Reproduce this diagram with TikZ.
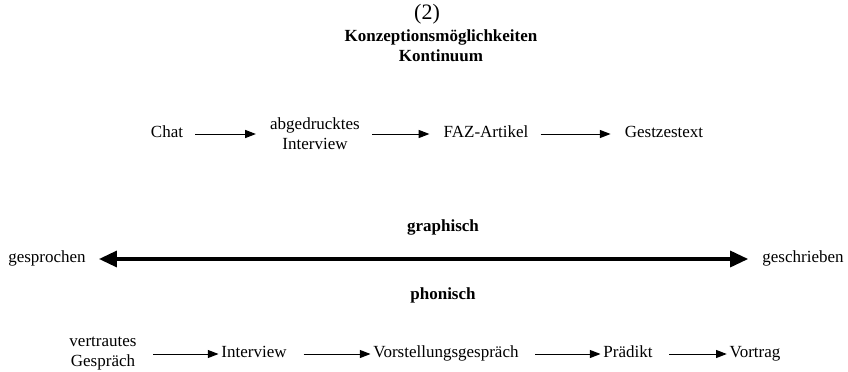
\documentclass[tikz,border=0pt]{standalone}
\usepackage{fontspec}
\setmainfont{Liberation Serif}
\usepackage{tikz}
\usetikzlibrary{arrows.meta,positioning}

\begin{document}
\begin{tikzpicture}[
    x=0.75pt, y=-0.75pt,
    item/.style={inner sep=0pt, font=\fontsize{12.75}{15}\selectfont, text height=1.5ex, text depth=.25ex},
    twoline/.style={inner sep=0pt, font=\fontsize{12.75}{15}\selectfont, align=center},
    label/.style={inner sep=0pt, font=\fontsize{12.75}{15}\selectfont\bfseries},
    toparrow/.style={-{Triangle[length=8pt, width=6pt]}, line width=0.75pt, shorten <=9pt, shorten >=10.5pt},
    lowarrow/.style={-{Triangle[length=8pt, width=6pt]}, line width=0.75pt, shorten <=12.5pt, shorten >=2pt},
    bigarrow/.style={{Triangle[length=13.5pt, width=12pt]}-{Triangle[length=13.5pt, width=12pt]}, line width=2.5pt, shorten <=9.75pt, shorten >=10.5pt}
]
\useasboundingbox (0,0) rectangle (848,371);

% title
\node (num) at (427,14) [inner sep=0pt, font=\fontsize{16.5}{18}\selectfont] {(2)};
\node (title) at (441,37) [label] {Konzeptionsmöglichkeiten};
\node (sub) at (441,56) [label] {Kontinuum};

% graphische Reihe
\node (chat) at (167,134) [item] {Chat};
\node (abgedr) at (315,134) [twoline] {abgedrucktes\\Interview};
\node (faz) at (486,134) [item] {FAZ-Artikel};
\node (gesetz) at (664,134) [item] {Gestzestext};

\draw [toparrow] (chat) -- (abgedr);
\draw [toparrow] (abgedr) -- (faz);
\draw [toparrow] (faz) -- (gesetz);

% Kontinuum
\node (graph) at (443,227) [label] {graphisch};
\node (gesp) at (47,259) [item] {gesprochen};
\node (geschr) at (803,259) [item] {geschrieben};
\node (phon) at (443,295) [label] {phonisch};

\draw [bigarrow] (gesp) -- (geschr);

% phonische Reihe
\node (vertr) at (103,354) [twoline] {vertrautes\\Gespräch};
\node (interview) at (254,354) [item] {Interview};
\node (vorst) at (446,354) [item] {Vorstellungsgespräch};
\node (predigt) at (628,354) [item] {Prädikt};
\node (vortrag) at (755,354) [item] {Vortrag};

\draw [lowarrow] (vertr) -- (interview);
\draw [lowarrow] (interview) -- (vorst);
\draw [lowarrow] (vorst) -- (predigt);
\draw [lowarrow] (predigt) -- (vortrag);

\end{tikzpicture}
\end{document}
